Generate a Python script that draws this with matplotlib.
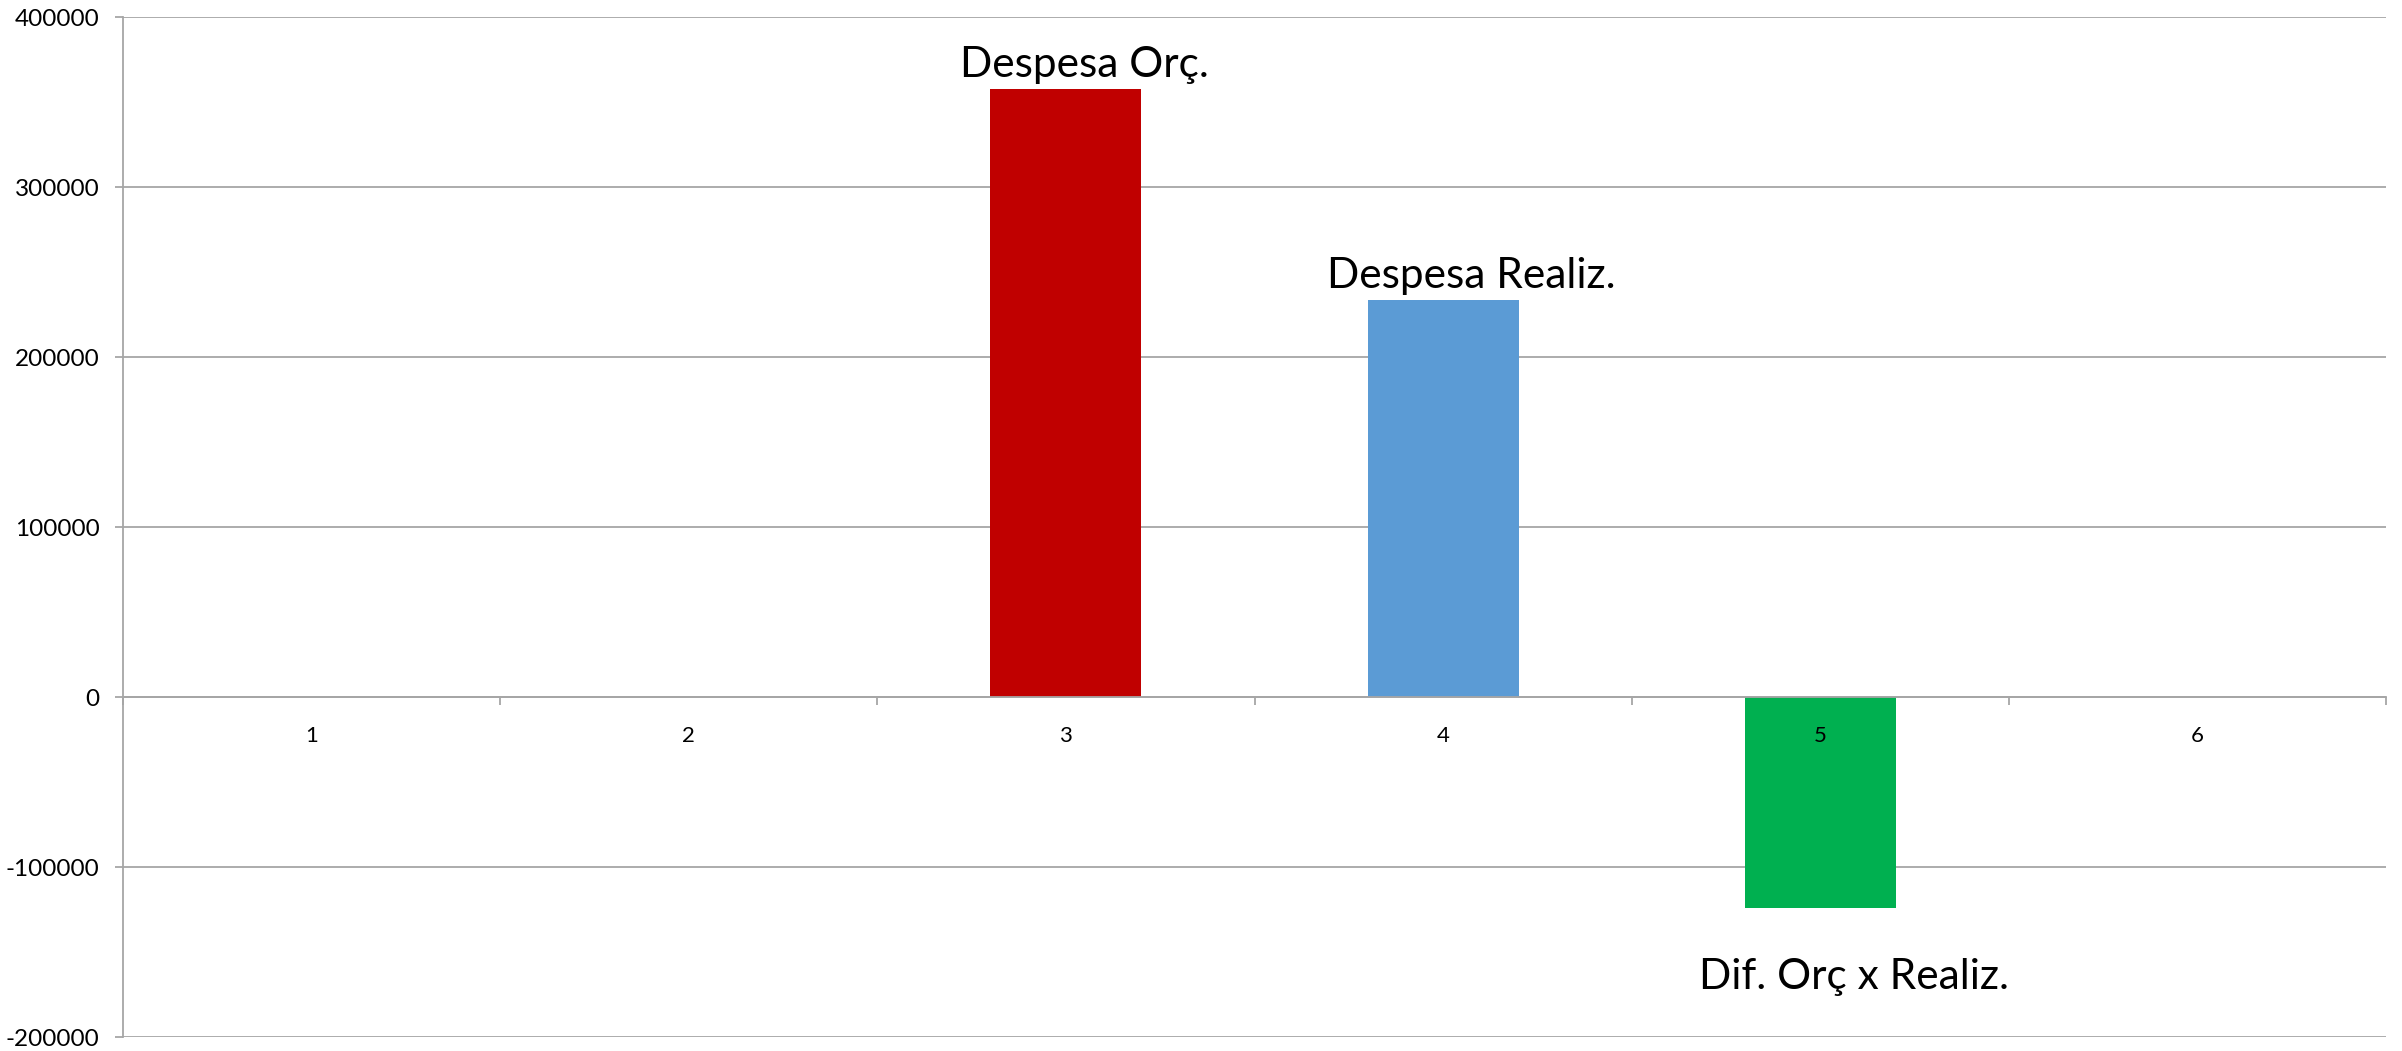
import matplotlib
matplotlib.use("Agg")
import matplotlib.pyplot as plt
from matplotlib.ticker import FixedLocator

categories = [1, 2, 3, 4, 5, 6]
values = [0, 0, 357500, 233400, -124100, 0]
bar_labels = ["", "", "Despesa Orç.", "Despesa Realiz.", "Dif. Orç x Realiz.", ""]
bar_colors = ["#C00000", "#C00000", "#C00000", "#5B9BD5", "#00B050", "#00B050"]
y_ticks = [-200000, -100000, 0, 100000, 200000, 300000, 400000]

plt.rcParams["font.family"] = ["Lato", "DejaVu Sans"]

fig = plt.figure(figsize=(24.02, 10.51), dpi=100)
ax = fig.add_axes([123 / 2402, 14 / 1051, (2386 - 123) / 2402, (1037 - 17) / 1051])

grid_color = "#a6a6a6"
for yv in y_ticks:
    ax.axhline(yv, color=grid_color, lw=1.3, zorder=0.5)

bars = ax.bar(categories, values, width=0.4, color=bar_colors, zorder=1)

offsets = {2: (13, 9), 3: (20, 9), 4: (24, -58)}
for i, (c, v, lab) in enumerate(zip(categories, values, bar_labels)):
    if not lab:
        continue
    dx, dy = offsets.get(i, (0, 9))
    ax.annotate(lab, xy=(c, v), xytext=(dx, dy), textcoords="offset points",
                ha="center", va="baseline", fontsize=30.5, color="black", zorder=3)

ax.set_xlim(0.5, 6.5)
ax.set_ylim(-200000, 400000)
ax.set_axisbelow(False)

ax.spines["top"].set_visible(False)
ax.spines["right"].set_visible(False)
ax.spines["bottom"].set_position(("data", 0))
for s in ("left", "bottom"):
    ax.spines[s].set_color(grid_color)
    ax.spines[s].set_linewidth(1.3)

ax.set_xticks(categories)
ax.set_xticklabels([str(c) for c in categories])
ax.xaxis.set_minor_locator(FixedLocator([0.5 + k for k in range(7)]))
ax.tick_params(axis="x", which="major", length=0, pad=21, labelsize=16)
ax.tick_params(axis="x", which="minor", length=6, width=1.3, color=grid_color, direction="out")

ax.set_yticks(y_ticks)
ax.set_yticklabels([str(t) for t in y_ticks])
ax.tick_params(axis="y", which="major", length=6, width=1.3, color=grid_color, pad=11, labelsize=17.5)

fig.savefig("out.png", dpi=100, facecolor="white")
